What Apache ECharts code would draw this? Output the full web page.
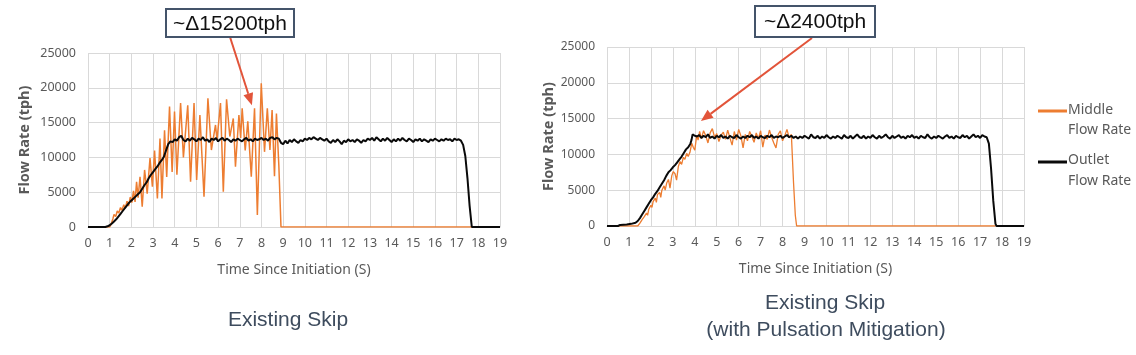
<!DOCTYPE html>
<html><head><meta charset="utf-8">
<script src="https://cdn.jsdelivr.net/npm/echarts@6/dist/echarts.min.js"></script>
<style>html,body{margin:0;padding:0;background:#fff}#c{width:1136px;height:355px}</style>
</head><body><div id="c"></div><script>
// ---------- data (time s, flow tph) ----------
const leftMiddle = [[0,0],[1.0,0],[1.05,300],[1.15,1200],[1.2,1800],[1.28,1500],[1.35,2300],[1.42,2000],[1.5,2800],[1.57,2400],[1.65,3200],[1.72,2700],[1.8,3700],[1.87,3000],[1.95,4300],[2.02,3500],[2.1,5200],[2.17,3600],[2.24,6500],[2.31,4200],[2.4,7200],[2.5,2900],[2.61,8200],[2.73,4800],[2.86,9900],[2.97,5800],[3.07,11000],[3.2,4100],[3.32,12700],[3.41,4100],[3.53,13900],[3.63,7200],[3.76,17300],[3.88,7900],[3.99,16600],[4.1,7500],[4.27,17800],[4.4,10000],[4.6,17500],[4.73,6500],[4.89,17800],[5.01,6750],[5.16,16100],[5.35,4360],[5.53,18500],[5.69,11060],[5.88,14660],[5.95,12500],[6.11,17800],[6.24,5080],[6.39,18350],[6.54,13000],[6.7,15600],[6.8,8670],[6.96,16100],[7.04,12800],[7.11,17050],[7.25,11000],[7.37,15200],[7.53,7230],[7.68,17050],[7.81,1720],[7.99,20650],[8.14,10800],[8.27,17050],[8.39,11060],[8.49,16800],[8.6,7300],[8.69,16300],[8.8,8900],[8.9,0],[17.7,0]];
const leftOutlet = [[0,0],[0.8,0],[0.9,100],[1.0,250],[1.1,500],[1.2,800],[1.3,1100],[1.4,1500],[1.5,1900],[1.6,2300],[1.7,2700],[1.8,3100],[1.9,3500],[2.0,3800],[2.1,4100],[2.2,4400],[2.3,4700],[2.4,5000],[2.5,5500],[2.6,6000],[2.7,6400],[2.8,7000],[2.9,7500],[3.0,7900],[3.1,8300],[3.2,8700],[3.3,9200],[3.4,9600],[3.5,10100],[3.6,11000],[3.7,11900],
[3.8,12300],[3.9,12200],[4.0,12600],[4.1,12400],[4.2,12900],[4.3,13100],[4.4,12500],[4.5,12300],[4.6,12700],[4.7,12400],[4.8,12800],[4.9,12600],[5.0,12300],[5.1,12700],[5.2,12500],[5.3,12900],[5.4,12400],[5.5,12600],[5.6,12200],[5.7,12700],[5.8,12500],[5.9,12800],[6.0,12300],[6.1,12600],[6.2,12800],[6.3,12400],[6.4,12700],[6.5,12500],[6.6,12200],[6.7,12600],[6.8,12400],[6.9,12700],[7.0,12500],[7.1,12300],[7.2,12600],[7.3,12800],[7.4,12400],[7.5,12600],[7.6,12300],[7.7,12700],[7.8,12500],[7.9,12600],[8.0,12800],[8.1,12500],[8.2,12700],[8.3,12400],[8.4,12800],[8.5,12900],[8.6,12600],[8.7,12800],[8.8,12700],[8.9,12100],[9.0,11900],[9.1,12400],[9.2,12000],[9.3,12500],[9.4,12200],[9.5,12600],[9.6,12300],[9.7,12100],[9.8,12500],[9.9,12300],[10.0,12700],[10.1,12500],[10.2,12800],[10.3,12600],[10.4,12900],[10.5,12700],[10.6,12500],[10.7,12800],[10.8,12600],[10.9,12400],[11.0,12700],[11.1,12300],[11.2,12100],[11.3,12500],[11.4,12200],[11.5,12600],[11.6,12300],[11.7,11900],[11.8,12400],[11.9,12200],[12.0,12600],[12.1,12300],[12.2,12500],[12.3,12200],[12.4,12600],[12.5,12400],[12.6,12100],[12.7,12500],[12.8,12300],[12.9,12700],[13.0,12500],[13.1,12800],[13.2,12400],[13.3,12900],[13.4,12600],[13.5,12300],[13.6,12700],[13.7,12400],[13.8,12800],[13.9,12500],[14.0,12200],[14.1,12600],[14.2,12300],[14.3,12700],[14.4,12400],[14.5,12800],[14.6,12500],[14.7,12300],[14.8,12700],[14.9,12500],[15.0,12200],[15.1,12600],[15.2,12400],[15.3,12700],[15.4,12300],[15.5,12600],[15.6,12400],[15.7,12200],[15.8,12600],[15.9,12400],[16.0,12700],[16.1,12500],[16.2,12300],[16.3,12600],[16.4,12400],[16.5,12700],[16.6,12500],[16.7,12600],[16.8,12300],[16.9,12700],[17.0,12500],[17.1,12600],[17.2,12400],[17.3,11800],[17.4,10200],[17.5,7000],[17.6,3000],[17.7,0],[19,0]];
const rightMiddle = [[0,0],[1.4,0],[1.5,400],[1.6,900],[1.7,1300],[1.8,1800],[1.85,1500],[1.9,2300],[2.0,2900],[2.05,2600],[2.1,3400],[2.2,3900],[2.25,3300],[2.3,4400],[2.4,4700],[2.45,4000],[2.5,5000],[2.6,5600],[2.65,5000],[2.72,6000],[2.8,6500],[2.87,5300],[2.95,7000],[3.02,7600],[3.1,7300],[3.17,6400],[3.25,8300],[3.33,9000],[3.4,8600],[3.48,9600],[3.55,9300],[3.63,10150],[3.7,9700],[3.78,10300],[3.86,11550],[3.93,11000],[4.0,10600],[4.09,12700],[4.15,12000],[4.22,13200],[4.3,12200],[4.4,13300],[4.5,12600],[4.6,11600],[4.7,13000],[4.8,13600],[4.9,12400],[5.0,12900],[5.1,11800],[5.2,12700],[5.3,13100],[5.4,12100],[5.5,13400],[5.6,12300],[5.7,11300],[5.8,13200],[5.9,12000],[6.0,13500],[6.1,12600],[6.2,10900],[6.3,12800],[6.4,11900],[6.5,13200],[6.6,12500],[6.7,11700],[6.8,13000],[6.9,12200],[7.0,13300],[7.1,11000],[7.2,12700],[7.3,12100],[7.4,13400],[7.5,12400],[7.6,11600],[7.7,10900],[7.8,12800],[7.9,13300],[8.0,11900],[8.1,12600],[8.2,13500],[8.3,12300],[8.4,12800],[8.5,6000],[8.58,1500],[8.64,0],[17.7,0]];
const rightOutlet = [[0,0],[0.5,0],[0.6,150],[0.9,200],[1.1,300],[1.3,450],[1.4,700],[1.5,1100],[1.6,1600],[1.7,2100],[1.8,2600],[1.9,3100],[2.0,3600],[2.1,4000],[2.2,4500],[2.3,4900],[2.4,5400],[2.5,5900],[2.6,6400],[2.7,7000],[2.8,7500],[2.9,7800],[3.0,8200],[3.1,8500],[3.2,8900],[3.3,9300],[3.4,9700],[3.5,10200],[3.6,10700],[3.7,11000],[3.8,11500],[3.85,12000],[3.9,12800],[4.0,12600],[4.1,12500],[4.2,12700],[4.3,12300],[4.4,12600],[4.5,12400],[4.6,12800],[4.7,12300],[4.8,12500],[4.9,12200],[5.0,12600],[5.1,12400],[5.2,12700],[5.3,12300],[5.4,12500],[5.5,12200],[5.6,12600],[5.7,12400],[5.8,12300],[5.9,12700],[6.0,12400],[6.1,12200],[6.2,12500],[6.3,12300],[6.4,12600],[6.5,12400],[6.6,12700],[6.7,12300],[6.8,12500],[6.9,12200],[7.0,12600],[7.1,12400],[7.2,12300],[7.3,12600],[7.4,12400],[7.5,12700],[7.6,12300],[7.7,12500],[7.8,12400],[7.9,12600],[8.0,12300],[8.1,12500],[8.2,12700],[8.3,12400],[8.4,12600],[8.5,12300],[8.6,12500],[8.7,12200],[8.8,12500],[8.9,12300],[9.0,12600],[9.1,12400],[9.2,12200],[9.3,12800],[9.4,12400],[9.5,12300],[9.6,12600],[9.7,12200],[9.8,12500],[9.9,12300],[10.0,12700],[10.1,12400],[10.2,12200],[10.3,12500],[10.4,12300],[10.5,12600],[10.6,12400],[10.7,12200],[10.8,12700],[10.9,12400],[11.0,12300],[11.1,12600],[11.2,12200],[11.3,12500],[11.4,12800],[11.5,12400],[11.6,12300],[11.7,12600],[11.8,12200],[11.9,12500],[12.0,12300],[12.1,12700],[12.2,12400],[12.3,12200],[12.4,12600],[12.5,12300],[12.6,12500],[12.7,12800],[12.8,12400],[12.9,12200],[13.0,12600],[13.1,12300],[13.2,12500],[13.3,12700],[13.4,12300],[13.5,12500],[13.6,12200],[13.7,12600],[13.8,12400],[13.9,12700],[14.0,12300],[14.1,12500],[14.2,12200],[14.3,12600],[14.4,12400],[14.5,12300],[14.6,12800],[14.7,12400],[14.8,12200],[14.9,12500],[15.0,12300],[15.1,12600],[15.2,12400],[15.3,12200],[15.4,12500],[15.5,12700],[15.6,12300],[15.7,12500],[15.8,12200],[15.9,12600],[16.0,12400],[16.1,12300],[16.2,12700],[16.3,12400],[16.4,12600],[16.5,12200],[16.6,12500],[16.7,12800],[16.8,12400],[16.9,12600],[17.0,12300],[17.1,12700],[17.2,12500],[17.3,12400],[17.4,11500],[17.5,8000],[17.6,3500],[17.7,300],[17.75,0],[19,0]];
const yTicks = {min:0, max:25000, interval:5000};
const xTicks = {min:0, max:19, interval:1};
const seriesNames = ['Middle Flow Rate','Outlet Flow Rate'];
const panelTitles = [['Existing Skip'], ['Existing Skip','(with Pulsation Mitigation)']];
const deltas = ['~\u039415200tph','~\u03942400tph'];
const arrowTips = [[7.56,17500],[4.28,14660]];

// ---------- style ----------
const ORANGE = '#ed7d31', BLACK = '#0a0a0a', GRID = '#d9d9d9', LBL = '#595959';
const FONT = '"Noto Sans", "Open Sans", sans-serif';
const chart = echarts.init(document.getElementById('c'), null, {renderer:'canvas'});

function xAxis(gi){ return {type:'value', gridIndex:gi, min:xTicks.min, max:xTicks.max, interval:xTicks.interval,
  name:'Time Since Initiation (S)', nameLocation:'middle', nameGap:36,
  nameTextStyle:{color:LBL, fontSize:14, fontFamily:FONT},
  axisLine:{show:true, onZero:false, lineStyle:{color:GRID}}, axisTick:{show:false},
  axisLabel:{color:LBL, fontSize:12.5, fontFamily:FONT, margin:10},
  splitLine:{show:true, lineStyle:{color:GRID, width:1}}}; }
function yAxis(gi, fs, gap){ return {type:'value', gridIndex:gi, min:yTicks.min, max:yTicks.max, interval:yTicks.interval,
  name:'Flow Rate (tph)', nameLocation:'middle', nameGap:gap, nameRotate:90,
  nameTextStyle:{color:LBL, fontSize:14.5, fontWeight:'bold', fontFamily:FONT},
  axisLine:{show:false}, axisTick:{show:false},
  axisLabel:{color:LBL, fontSize:fs, fontFamily:FONT, margin:12, formatter:(v)=>String(v)},
  splitLine:{show:true, lineStyle:{color:GRID, width:1}}}; }
function line(name, data, gi, color, w){ return {type:'line', name, data, xAxisIndex:gi, yAxisIndex:gi,
  showSymbol:false, symbol:'none', lineStyle:{color, width:w}, itemStyle:{color}, animation:false, z: color===BLACK?3:2}; }

chart.setOption({
  animation:false,
  grid:[{left:88, top:53, width:412, height:174}, {left:607, top:47, width:417, height:179}],
  xAxis:[xAxis(0), xAxis(1)],
  yAxis:[yAxis(0,12.5,56), yAxis(1,12,50)],
  series:[line(seriesNames[0], leftMiddle, 0, ORANGE, 1.5), line(seriesNames[1], leftOutlet, 0, BLACK, 2),
          line(seriesNames[0], rightMiddle, 1, ORANGE, 1.3), line(seriesNames[1], rightOutlet, 1, BLACK, 2)]
});

function arrow(from, tip){
  const dx = tip[0]-from[0], dy = tip[1]-from[1], L = Math.hypot(dx,dy), ux = dx/L, uy = dy/L;
  const hl = 12, hw = 5, bx = tip[0]-ux*hl, by = tip[1]-uy*hl;
  return [
    {type:'line', shape:{x1:from[0], y1:from[1], x2:bx, y2:by}, style:{stroke:'#e2543a', lineWidth:2}, z:100},
    {type:'polygon', shape:{points:[[tip[0],tip[1]],[bx-uy*hw,by+ux*hw],[bx+uy*hw,by-ux*hw]]}, style:{fill:'#e2543a'}, z:100}
  ];
}
const tipL = chart.convertToPixel({gridIndex:0}, arrowTips[0]);
const tipR = chart.convertToPixel({gridIndex:1}, arrowTips[1]);
const TFONT = '"Liberation Sans", Arial, sans-serif';
const g = [];
g.push(...arrow([230,37], tipL), ...arrow([812,38], tipR));
g.push({type:'rect', shape:{x:166, y:9, width:128, height:28}, style:{fill:'#fff', stroke:'#44546a', lineWidth:2}, z:101});
g.push({type:'text', x:230, y:24, style:{text:deltas[0], font:'21px '+TFONT, fill:'#111', align:'center', verticalAlign:'middle'}, z:102});
g.push({type:'rect', shape:{x:755, y:6, width:120, height:31}, style:{fill:'#fff', stroke:'#44546a', lineWidth:2}, z:101});
g.push({type:'text', x:815, y:22, style:{text:deltas[1], font:'21px '+TFONT, fill:'#111', align:'center', verticalAlign:'middle'}, z:102});
// titles
g.push({type:'text', x:288, y:320, style:{text:panelTitles[0][0], font:'21px '+TFONT, fill:'#3e4c5e', align:'center', verticalAlign:'middle'}});
g.push({type:'text', x:825, y:303, style:{text:panelTitles[1][0], font:'21px '+TFONT, fill:'#3e4c5e', align:'center', verticalAlign:'middle'}});
g.push({type:'text', x:826, y:330, style:{text:panelTitles[1][1], font:'21px '+TFONT, fill:'#3e4c5e', align:'center', verticalAlign:'middle'}});
// legend
const LF = '14px '+FONT;
g.push({type:'line', shape:{x1:1038, y1:111, x2:1067, y2:111}, style:{stroke:ORANGE, lineWidth:3}});
g.push({type:'text', x:1068, y:110, style:{text:'Middle', font:LF, fill:LBL, verticalAlign:'middle'}});
g.push({type:'text', x:1068, y:130, style:{text:'Flow Rate', font:LF, fill:LBL, verticalAlign:'middle'}});
g.push({type:'line', shape:{x1:1038, y1:162, x2:1067, y2:162}, style:{stroke:BLACK, lineWidth:3}});
g.push({type:'text', x:1068, y:160, style:{text:'Outlet', font:LF, fill:LBL, verticalAlign:'middle'}});
g.push({type:'text', x:1068, y:181, style:{text:'Flow Rate', font:LF, fill:LBL, verticalAlign:'middle'}});
chart.setOption({graphic:g});
</script></body></html>
